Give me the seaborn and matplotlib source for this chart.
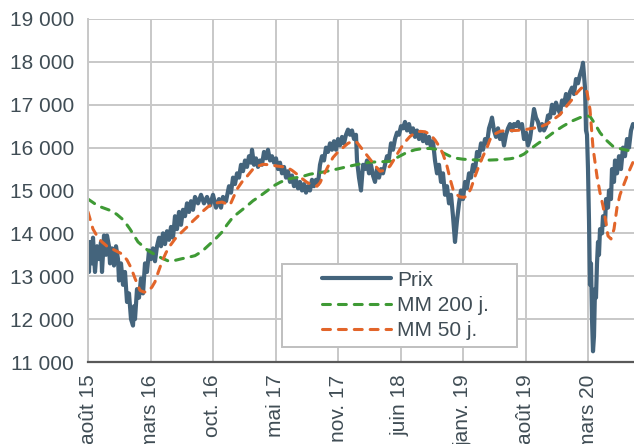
import matplotlib
matplotlib.use("Agg")
import matplotlib.pyplot as plt
from matplotlib.patches import Rectangle
import seaborn as sns
import pandas as pd

# ---------------- data ----------------
tick_labels = ["août 15", "mars 16", "oct. 16", "mai 17", "nov. 17",
               "juin 18", "janv. 19", "août 19", "mars 20"]
tick_step = 125          # séances between labelled ticks
x_end = 1092             # last séance shown

y_ticks = [11000, 12000, 13000, 14000, 15000, 16000, 17000, 18000, 19000]
y_tick_labels = ["11 000", "12 000", "13 000", "14 000", "15 000",
                 "16 000", "17 000", "18 000", "19 000"]

prix_idx = [0, 2, 4, 8, 10, 14, 18, 22, 26, 28, 32, 36, 38, 42, 44, 48, 52, 56, 60, 62,
            66, 70, 74, 78, 82, 86, 90, 92, 94, 98, 102, 106, 110, 114, 118, 122, 126, 130,
            134, 138, 142, 146, 150, 154, 158, 162, 166, 170, 174, 178, 182, 186, 190, 194,
            198, 202, 206, 210, 214, 220, 226, 232, 238, 244, 250, 256, 262, 266, 270, 276,
            282, 286, 290, 294, 298, 302, 306, 310, 314, 318, 322, 326, 328, 332, 336, 340,
            344, 348, 352, 356, 360, 364, 368, 372, 376, 380, 384, 388, 392, 396, 400, 404,
            408, 412, 416, 420, 424, 428, 432, 436, 440, 444, 448, 452, 456, 460, 464, 468,
            472, 476, 480, 484, 488, 492, 496, 500, 504, 508, 512, 516, 520, 524, 528, 532,
            536, 538, 542, 546, 550, 554, 558, 562, 566, 570, 574, 578, 582, 586, 590, 594,
            598, 602, 606, 610, 614, 618, 622, 626, 630, 634, 638, 642, 646, 650, 654, 658,
            662, 666, 670, 674, 678, 682, 686, 690, 694, 698, 702, 706, 710, 714, 718, 722,
            726, 730, 734, 738, 742, 746, 750, 754, 758, 762, 766, 770, 774, 778, 782, 786,
            790, 794, 798, 802, 806, 808, 812, 816, 820, 824, 828, 832, 836, 840, 844, 848,
            852, 856, 860, 864, 868, 872, 876, 880, 884, 888, 892, 896, 900, 904, 908, 912,
            916, 920, 924, 928, 932, 936, 940, 944, 948, 952, 956, 960, 964, 968, 972, 976,
            980, 984, 988, 990, 992, 994, 996, 998, 1000, 1002, 1004, 1006, 1008, 1010, 1012,
            1014, 1016, 1018, 1020, 1022, 1024, 1028, 1030, 1034, 1036, 1040, 1042, 1046,
            1048, 1052, 1054, 1058, 1062, 1066, 1070, 1074, 1078, 1082, 1086, 1090]
prix_val = [13600, 13100, 13800, 13300, 13900, 13100, 13700, 13400, 13800, 13100, 13950,
            13500, 13950, 13700, 13300, 13650, 13250, 13700, 13400, 12900, 13300, 12800,
            13100, 12400, 12600, 12000, 11850, 12300, 12000, 12700, 12500, 12950, 12600,
            13300, 13100, 13600, 13400, 13650, 13350, 13700, 13900, 13700, 14000, 13750,
            14050, 13850, 14150, 13900, 14400, 14100, 14500, 14200, 14550, 14400, 14700,
            14500, 14750, 14550, 14850, 14700, 14900, 14700, 14850, 14650, 14900, 14600,
            14800, 14600, 14850, 14750, 15100, 14950, 15300, 15150, 15400, 15300, 15600,
            15450, 15700, 15550, 15800, 15650, 15950, 15600, 15750, 15550, 15700, 15600,
            15900, 15750, 15950, 15700, 15800, 15650, 15750, 15500, 15650, 15400, 15550,
            15300, 15450, 15200, 15350, 15100, 15250, 15050, 15200, 15000, 15150, 14950,
            15100, 15000, 15250, 15100, 15250, 15150, 15600, 15800, 15700, 16000, 15900,
            16100, 15950, 16150, 15950, 16200, 16050, 16250, 16100, 16300, 16420, 16300,
            16400, 16200, 16300, 15700, 15300, 15000, 15600, 15500, 15700, 15400, 15600,
            15350, 15200, 15500, 15300, 15500, 15400, 15600, 15800, 15750, 16100, 15950,
            16200, 16350, 16300, 16500, 16450, 16600, 16400, 16550, 16350, 16450, 16250,
            16400, 16200, 16350, 16150, 16300, 16100, 16250, 16000, 16150, 15700, 15400,
            15600, 15200, 15400, 14900, 15100, 14700, 14900, 14400, 13800, 14300, 14700,
            15000, 14800, 15200, 15050, 15400, 15300, 15600, 15450, 15900, 15800, 16100,
            15950, 16200, 16100, 16450, 16600, 16700, 16400, 16250, 16450, 16200, 16350,
            16050, 16300, 16450, 16550, 16400, 16550, 16500, 16600, 16450, 16550, 16200,
            16350, 16050, 16200, 16550, 16900, 16700, 16600, 16400, 16550, 16400, 16500,
            16750, 16700, 17000, 16800, 17050, 16900, 16800, 17100, 17000, 17250, 17050,
            17300, 17400, 17250, 17600, 17500, 17700, 17850, 17980, 17700, 17400, 16400,
            16300, 15500, 14300, 12800, 13300, 12000, 11250, 11600, 12700, 12500, 13300,
            13800, 13500, 14100, 14000, 14400, 14200, 14800, 14600, 15000, 14800, 15500,
            15200, 15700, 15400, 15800, 15500, 16000, 15800, 16200, 16000, 16400, 16550]

mm200_idx = [0, 20, 34, 48, 58, 68, 76, 84, 92, 100, 110, 120, 130, 138, 148, 160, 174,
             188, 200, 214, 228, 240, 254, 268, 278, 290, 304, 318, 330, 344, 358, 370,
             384, 398, 410, 424, 444, 470, 498, 524, 544, 564, 584, 604, 620, 638, 654,
             670, 684, 698, 710, 724, 738, 750, 764, 778, 804, 824, 844, 858, 872, 884,
             898, 918, 934, 950, 968, 984, 996, 1004, 1014, 1024, 1036, 1050, 1060, 1070,
             1090]
mm200_val = [14800, 14640, 14580, 14520, 14440, 14340, 14230, 14100, 13950, 13800, 13700,
             13600, 13530, 13480, 13420, 13360, 13370, 13410, 13440, 13480, 13580, 13710,
             13860, 14030, 14200, 14380, 14510, 14640, 14760, 14870, 14990, 15100, 15190,
             15260, 15290, 15310, 15380, 15430, 15500, 15570, 15620, 15660, 15670, 15680,
             15780, 15890, 15950, 15980, 15980, 15960, 15880, 15800, 15750, 15730, 15720,
             15710, 15710, 15720, 15740, 15770, 15850, 15960, 16080, 16240, 16380, 16500,
             16620, 16700, 16740, 16730, 16550, 16350, 16180, 16030, 15990, 15960, 15910]

mm50_idx = [0, 10, 20, 28, 38, 48, 58, 68, 78, 86, 94, 104, 112, 120, 128, 134, 140, 148,
            156, 164, 174, 184, 200, 210, 220, 230, 240, 252, 268, 284, 298, 308, 318, 330,
            340, 350, 364, 378, 398, 408, 418, 428, 438, 448, 458, 464, 470, 480, 490, 500,
            510, 520, 530, 538, 544, 554, 564, 574, 584, 594, 604, 614, 624, 634, 644, 654,
            664, 674, 684, 694, 704, 710, 718, 724, 730, 738, 744, 752, 758, 766, 774, 782,
            790, 798, 804, 814, 824, 838, 854, 870, 884, 904, 918, 930, 944, 956, 968, 978,
            986, 992, 998, 1004, 1010, 1018, 1024, 1030, 1036, 1040, 1046, 1052, 1058, 1064,
            1072, 1078, 1084, 1090]
mm50_val = [14500, 14100, 13900, 13800, 13700, 13640, 13580, 13520, 13380, 13200, 12950,
            12670, 12630, 12640, 12750, 12870, 13080, 13340, 13550, 13710, 13870, 13990,
            14170, 14290, 14400, 14520, 14620, 14700, 14730, 14660, 15030, 15200, 15330,
            15500, 15570, 15610, 15600, 15570, 15540, 15470, 15380, 15280, 15190, 15130,
            15100, 15180, 15330, 15560, 15770, 15900, 16000, 16100, 16150, 16120, 16030,
            15880, 15730, 15580, 15450, 15470, 15570, 15760, 15960, 16130, 16260, 16340,
            16380, 16370, 16310, 16180, 16000, 15850, 15570, 15280, 15030, 14900, 14850,
            14840, 14870, 15050, 15330, 15580, 15800, 16000, 16190, 16320, 16380, 16400,
            16400, 16410, 16440, 16480, 16550, 16650, 16770, 16950, 17120, 17280, 17380,
            17420, 17300, 16890, 16000, 15330, 14950, 14640, 14250, 13940, 13870, 14100,
            14600, 14900, 15150, 15330, 15500, 15660]

series_names = ["Prix", "MM 200 j.", "MM 50 j."]

# ---------------- styling ----------------
sns.set_theme(style="white")
plt.rcParams["font.family"] = ["Liberation Sans", "DejaVu Sans"]
text_col = "#404d55"
grid_col = "#c8c8c8"
axis_col = "#595959"
c_prix, c_200, c_50 = "#44647c", "#3f9a35", "#e2652a"

fig = plt.figure(figsize=(6.34, 4.44), dpi=100)
ax = fig.add_axes([88 / 634, 1 - 362 / 444, 546 / 634, 343 / 444])

df_prix = pd.DataFrame({"x": prix_idx, "y": prix_val})
df_200 = pd.DataFrame({"x": mm200_idx, "y": mm200_val})
df_50 = pd.DataFrame({"x": mm50_idx, "y": mm50_val})

sns.lineplot(data=df_prix, x="x", y="y", ax=ax, color=c_prix, linewidth=3.0,
             label=series_names[0], solid_joinstyle="round", solid_capstyle="round")
sns.lineplot(data=df_200, x="x", y="y", ax=ax, color=c_200, linewidth=2.2,
             label=series_names[1], linestyle=(0, (2.6, 2.6)), dash_capstyle="round")
sns.lineplot(data=df_50, x="x", y="y", ax=ax, color=c_50, linewidth=2.2,
             label=series_names[2], linestyle=(0, (2.6, 2.6)), dash_capstyle="round")

ax.set_xlim(0, x_end)
ax.set_ylim(y_ticks[0], y_ticks[-1])
ax.set_xticks([i * tick_step for i in range(len(tick_labels))])
ax.set_xticklabels(tick_labels, rotation=90, fontsize=15, color=text_col)
ax.set_yticks(y_ticks)
ax.set_yticklabels(y_tick_labels, fontsize=15, color=text_col)
ax.set_xlabel("")
ax.set_ylabel("")

ax.grid(True, color=grid_col, linewidth=1.4)
ax.set_axisbelow(True)
for s in ["top", "right"]:
    ax.spines[s].set_visible(False)
ax.spines["left"].set_color(grid_col)
ax.spines["left"].set_linewidth(1.4)
ax.spines["bottom"].set_color(axis_col)
ax.spines["bottom"].set_linewidth(1.6)
ax.spines["bottom"].set_zorder(5)
ax.tick_params(axis="x", direction="inout", length=12, width=1.5, color=axis_col, pad=3)
ax.tick_params(axis="y", direction="out", length=6, width=1.4, color=grid_col, pad=4)

# legend box
ax.add_patch(Rectangle(((282 - 88) / 546, (362 - 347) / 343), 235 / 546, 83 / 343,
                       transform=ax.transAxes, facecolor="white", edgecolor="#bfbfbf",
                       linewidth=1.4, zorder=6))
leg = ax.legend(loc="center left", bbox_to_anchor=((322 - 88) / 546, (362 - 305.5) / 343),
                frameon=False, fontsize=15, handlelength=3.3, handletextpad=0.3,
                labelspacing=0.3, borderpad=0, borderaxespad=0)
leg.set_zorder(7)
for t in leg.get_texts():
    t.set_color(text_col)

fig.savefig("out.png", dpi=100)
